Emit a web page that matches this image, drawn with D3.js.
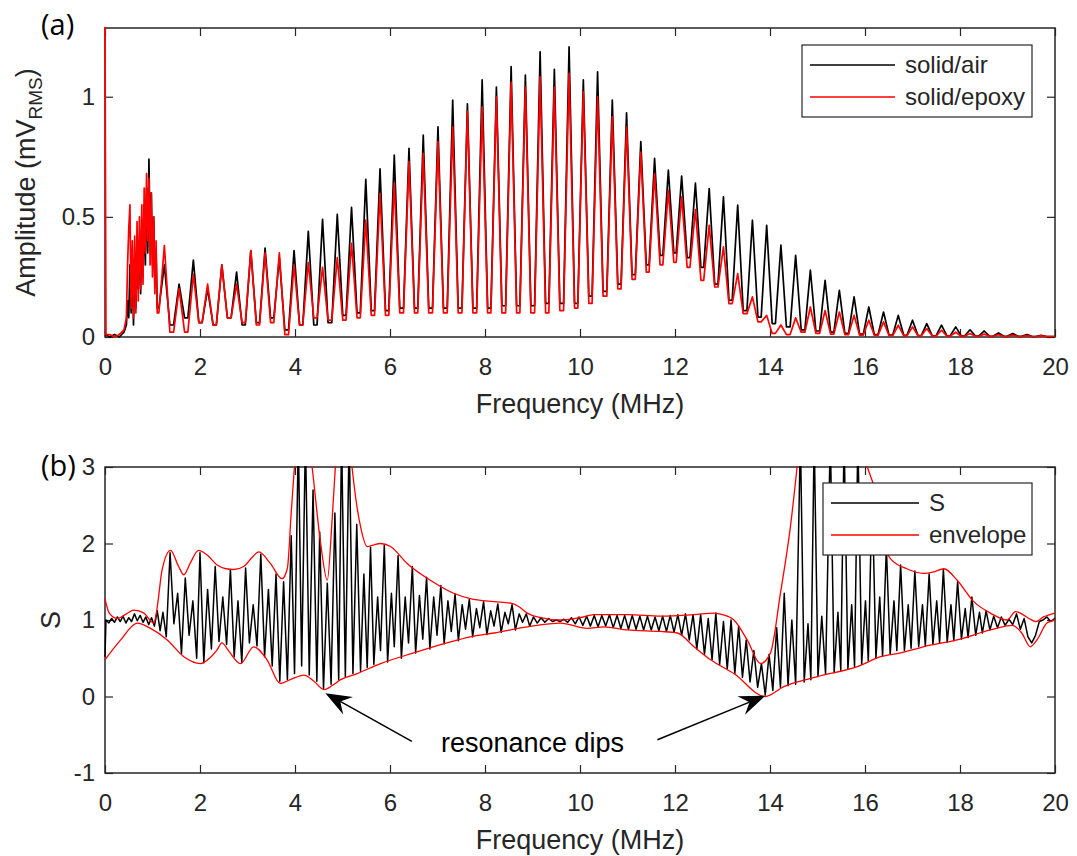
<!DOCTYPE html>
<html>
<head>
<meta charset="utf-8">
<script src="https://cdn.jsdelivr.net/npm/d3@7"></script>
<style>
  body { margin: 0; background: #fff; }
  text { font-family: "Liberation Sans", Arial, sans-serif; fill: #262626; }
</style>
</head>
<body>
<script>
	// ---------- data ----------

	// (a) low-frequency lump, MHz / mV_RMS
	var lowFreq  = [0, 0.02, 0.10, 0.20, 0.30, 0.40, 0.45, 0.475, 0.50, 0.525, 0.55, 0.575, 0.60, 0.625, 0.65, 0.675,
		0.70, 0.725, 0.75, 0.775, 0.80, 0.825, 0.85, 0.875, 0.90, 0.925, 0.95, 0.975, 1.00, 1.025, 1.05, 1.075];
	var lowAir   = [0.01, 0.01, 0.00, 0.01, 0.00, 0.02, 0.05, 0.15, 0.08, 0.30, 0.10, 0.33, 0.05, 0.30, 0.12, 0.35,
		0.20, 0.40, 0.18, 0.45, 0.25, 0.55, 0.30, 0.62, 0.35, 0.74, 0.40, 0.60, 0.30, 0.50, 0.22, 0.36];
	var lowEpoxy = [1.30, 0.01, 0.01, 0.00, 0.01, 0.03, 0.08, 0.30, 0.45, 0.55, 0.12, 0.40, 0.08, 0.42, 0.10, 0.48,
		0.15, 0.50, 0.20, 0.55, 0.22, 0.62, 0.35, 0.68, 0.40, 0.66, 0.30, 0.60, 0.25, 0.50, 0.18, 0.40];

	// (a) resonance comb: trough and peak positions
	var troughFreq = [1.10, 1.41, 1.71, 2.01, 2.31, 2.62, 2.92, 3.22, 3.52, 3.83, 4.13, 4.43, 4.74, 5.04, 5.34, 5.64,
		5.94, 6.25, 6.55, 6.86, 7.17, 7.48, 7.79, 8.09, 8.40, 8.70, 9.01, 9.31, 9.62, 9.92, 10.22, 10.53, 10.83, 11.13,
		11.43, 11.72, 12.00, 12.29, 12.58, 12.87, 13.17, 13.48, 13.78, 14.08, 14.39, 14.70, 15.01, 15.31, 15.62, 15.93,
		16.24, 16.55, 16.85, 17.15, 17.46, 17.76, 18.06, 18.36, 18.66, 18.96, 19.26, 19.56, 19.86, 20.00];
	var peakFreq = [1.25, 1.56, 1.86, 2.16, 2.46, 2.77, 3.07, 3.37, 3.67, 3.98, 4.28, 4.58, 4.89, 5.19, 5.49, 5.79,
		6.09, 6.40, 6.70, 7.01, 7.32, 7.63, 7.94, 8.24, 8.55, 8.85, 9.16, 9.46, 9.77, 10.07, 10.37, 10.68, 10.98, 11.28,
		11.57, 11.86, 12.14, 12.43, 12.72, 13.02, 13.32, 13.63, 13.93, 14.23, 14.54, 14.85, 15.16, 15.46, 15.77, 16.08,
		16.39, 16.70, 17.00, 17.30, 17.61, 17.91, 18.21, 18.51, 18.81, 19.11, 19.41, 19.71];

	var airPeak = [0.30, 0.22, 0.32, 0.20, 0.30, 0.27, 0.36, 0.37, 0.33, 0.36, 0.44, 0.49, 0.51, 0.54, 0.656, 0.70,
		0.757, 0.785, 0.84, 0.875, 0.986, 0.97, 1.07, 1.04, 1.125, 1.09, 1.187, 1.114, 1.208, 1.07, 1.104, 0.986, 0.933,
		0.813, 0.743, 0.695, 0.67, 0.64, 0.618, 0.583, 0.549, 0.486, 0.465, 0.382, 0.34, 0.278, 0.236, 0.194, 0.167,
		0.125, 0.104, 0.09, 0.07, 0.056, 0.049, 0.042, 0.03, 0.025, 0.017, 0.014, 0.01, 0.007];
	var airTrough = [0.12, 0.05, 0.08, 0.06, 0.05, 0.08, 0.05, 0.06, 0.08, 0.03, 0.05, 0.05, 0.06, 0.09, 0.10, 0.11,
		0.11, 0.12, 0.12, 0.12, 0.12, 0.12, 0.12, 0.12, 0.13, 0.13, 0.13, 0.14, 0.14, 0.14, 0.17, 0.19, 0.22, 0.26,
		0.30, 0.34, 0.35, 0.33, 0.29, 0.22, 0.153, 0.11, 0.083, 0.056, 0.042, 0.03, 0.025, 0.02, 0.015, 0.012,
		0.01, 0.008, 0.007, 0.006, 0.005, 0.005, 0.004, 0.004, 0.003, 0.003, 0.003, 0.002, 0.002, 0.002];

	var epoxyPeak = [0.38, 0.20, 0.26, 0.22, 0.30, 0.22, 0.36, 0.35, 0.35, 0.30, 0.31, 0.29, 0.33, 0.39, 0.486, 0.597,
		0.64, 0.73, 0.764, 0.813, 0.875, 0.938, 0.958, 1.0, 1.06, 1.04, 1.083, 1.04, 1.097, 1.02, 1.0, 0.917, 0.875,
		0.77, 0.68, 0.61, 0.583, 0.53, 0.465, 0.375, 0.264, 0.167, 0.09, 0.05, 0.08, 0.125, 0.11, 0.104, 0.09,
		0.07, 0.063, 0.049, 0.042, 0.035, 0.028, 0.02, 0.015, 0.012, 0.01, 0.008, 0.006, 0.005];
	var epoxyTrough = [0.10, 0.02, 0.02, 0.06, 0.05, 0.08, 0.06, 0.05, 0.06, 0.01, 0.05, 0.08, 0.07, 0.07, 0.08, 0.09,
		0.09, 0.10, 0.10, 0.10, 0.10, 0.10, 0.10, 0.10, 0.10, 0.10, 0.10, 0.10, 0.11, 0.12, 0.14, 0.17, 0.20, 0.24,
		0.27, 0.30, 0.31, 0.29, 0.236, 0.208, 0.139, 0.097, 0.063, 0.015, 0.01, 0.02, 0.015, 0.012, 0.01, 0.008,
		0.007, 0.006, 0.005, 0.005, 0.004, 0.004, 0.003, 0.003, 0.003, 0.002, 0.002, 0.002, 0.002, 0.002];

	// (b) S, [MHz, S]
	var sPoints = [
		[0.00,0.52],[0.02,1.00],[0.08,0.96],[0.14,1.02],[0.20,0.97],[0.26,1.04],[0.32,0.98],[0.38,1.05],[0.44,0.96],
		[0.50,1.03],[0.56,0.98],[0.62,1.08],[0.68,0.99],[0.74,1.06],[0.80,0.97],[0.86,1.04],[0.92,0.94],[0.98,1.03],
		[1.04,0.92],[1.10,1.12],[1.16,0.86],[1.22,1.10],[1.29,0.78],[1.37,1.88],[1.45,0.95],[1.53,1.35],[1.61,0.56],
		[1.69,1.55],[1.77,0.80],[1.85,1.25],[1.93,0.50],[2.00,1.88],[2.08,0.44],[2.16,1.40],[2.24,0.62],[2.32,1.70],
		[2.40,0.72],[2.48,1.30],[2.56,0.68],[2.64,1.66],[2.72,0.52],[2.80,1.25],[2.88,0.44],[2.96,1.68],[3.04,0.70],
		[3.12,1.20],[3.20,0.66],[3.28,1.86],[3.36,0.52],[3.44,1.40],[3.52,0.40],[3.60,1.60],[3.68,0.20],[3.76,1.50],
		[3.84,0.22],[3.92,2.10],[3.99,0.30],[4.07,3.40],[4.14,0.40],[4.22,3.40],[4.30,0.28],[4.38,2.70],[4.46,0.20],
		[4.52,2.15],[4.60,0.10],[4.68,1.48],[4.76,0.16],[4.84,2.40],[4.92,0.22],[4.98,3.40],[5.06,0.26],[5.14,3.40],
		[5.22,0.30],[5.30,2.25],[5.38,0.33],[5.45,1.60],[5.52,0.38],[5.59,1.95],[5.66,0.42],[5.74,1.30],[5.80,0.60],
		[5.88,1.98],[5.95,0.45],[6.03,1.35],[6.09,0.65],[6.17,1.84],[6.24,0.50],[6.32,1.30],[6.39,0.70],[6.47,1.70],
		[6.54,0.57],[6.62,1.32],[6.69,0.75],[6.77,1.56],[6.84,0.62],[6.92,1.30],[6.99,0.80],[7.07,1.45],[7.14,0.69],
		[7.22,1.25],[7.29,0.85],[7.37,1.34],[7.44,0.73],[7.52,1.20],[7.59,0.88],[7.67,1.27],[7.74,0.78],[7.82,1.15],
		[7.89,0.90],[7.97,1.24],[8.04,0.81],[8.12,1.12],[8.19,0.92],[8.27,1.21],[8.34,0.84],[8.42,1.10],[8.49,0.95],
		[8.57,1.20],[8.64,0.87],[8.72,1.08],[8.79,0.97],[8.87,1.08],[8.94,0.92],[9.02,1.04],[9.10,0.96],[9.18,1.03],
		[9.26,0.97],[9.34,1.02],[9.42,0.98],[9.50,1.00],[9.58,0.98],[9.66,1.01],[9.74,0.97],[9.82,1.03],[9.90,0.95],
		[9.98,1.04],[10.06,0.93],[10.14,1.05],[10.22,0.92],[10.30,1.06],[10.38,0.91],[10.46,1.06],[10.54,0.92],
		[10.62,1.07],[10.70,0.90],[10.78,1.06],[10.86,0.89],[10.94,1.06],[11.02,0.88],[11.10,1.06],[11.18,0.88],
		[11.26,1.05],[11.34,0.87],[11.42,1.05],[11.50,0.87],[11.58,1.04],[11.66,0.86],[11.74,1.05],[11.82,0.85],
		[11.90,1.06],[11.98,0.84],[12.06,1.07],[12.14,0.80],[12.22,1.08],[12.30,0.74],[12.38,1.07],[12.46,0.62],
		[12.54,1.07],[12.62,0.55],[12.70,1.02],[12.78,0.48],[12.86,1.09],[12.94,0.42],[13.02,0.98],[13.10,0.36],
		[13.18,1.00],[13.26,0.30],[13.34,0.92],[13.42,0.25],[13.50,0.74],[13.58,0.19],[13.66,0.60],[13.74,0.12],
		[13.82,0.43],[13.90,0.02],[13.98,0.55],[14.06,0.08],[14.14,0.90],[14.22,0.12],[14.30,1.35],[14.38,0.14],
		[14.46,1.00],[14.54,0.16],[14.64,3.40],[14.72,0.19],[14.80,0.95],[14.86,0.22],[14.93,3.40],[15.01,0.26],
		[15.09,1.05],[15.17,0.29],[15.27,3.40],[15.35,0.31],[15.43,1.10],[15.49,0.34],[15.56,3.40],[15.64,0.36],
		[15.72,1.20],[15.78,0.39],[15.85,3.40],[15.93,0.42],[16.01,1.25],[16.07,0.46],[16.15,2.70],[16.23,0.50],
		[16.31,1.30],[16.37,0.53],[16.45,1.95],[16.53,0.55],[16.61,1.25],[16.67,0.60],[16.75,1.72],[16.83,0.60],
		[16.91,1.20],[16.97,0.63],[17.05,1.64],[17.13,0.65],[17.21,1.20],[17.27,0.66],[17.35,1.60],[17.43,0.68],
		[17.51,1.25],[17.57,0.70],[17.65,1.66],[17.73,0.71],[17.81,1.20],[17.87,0.73],[17.95,1.50],[18.03,0.75],
		[18.11,1.15],[18.17,0.77],[18.25,1.30],[18.33,0.80],[18.41,1.10],[18.47,0.83],[18.55,1.12],[18.63,0.87],
		[18.71,1.05],[18.79,0.90],[18.87,1.04],[18.95,0.93],[19.03,1.01],[19.11,0.94],[19.19,1.08],[19.27,0.88],
		[19.35,1.02],[19.43,0.78],[19.51,0.70],[19.59,0.80],[19.67,0.98],[19.75,1.00],[19.83,1.04],[19.91,0.98],
		[20.00,1.02]
	];

	// (b) envelope of S, [MHz, S]
	var envUpper = [
		[0,1.28],[0.09,1.09],[0.26,1.02],[0.45,1.08],[0.61,1.13],[0.82,1.09],[1.03,0.96],[1.10,1.17],[1.20,1.65],
		[1.38,1.91],[1.55,1.70],[1.66,1.59],[1.80,1.75],[1.97,1.91],[2.15,1.85],[2.36,1.72],[2.55,1.67],[2.71,1.66],
		[2.92,1.70],[3.10,1.82],[3.24,1.89],[3.48,1.74],[3.73,1.54],[3.84,1.68],[3.92,2.40],[4.00,3.10],[4.15,4.0],
		[4.36,3.0],[4.54,2.0],[4.68,1.52],[4.78,2.30],[4.85,3.0],[5.02,4.2],[5.20,3.0],[5.30,2.5],[5.38,2.22],
		[5.52,1.96],[5.65,1.98],[5.80,2.0],[6.01,1.96],[6.36,1.74],[6.85,1.52],[7.34,1.35],[7.69,1.28],[8.19,1.24],
		[8.54,1.22],[8.70,1.18],[8.89,1.09],[9.10,1.04],[9.59,1.00],[10.0,1.03],[10.29,1.07],[11.0,1.07],[11.7,1.05],
		[12.4,1.07],[12.82,1.09],[13.0,1.07],[13.24,1.0],[13.52,0.74],[13.80,0.43],[14.01,0.57],[14.22,1.35],
		[14.43,2.22],[14.57,3.0],[14.8,4.5],[15.5,5.0],[16.05,3.0],[16.19,2.74],[16.40,1.96],[16.54,1.80],
		[16.88,1.67],[17.23,1.61],[17.45,1.63],[17.66,1.67],[17.94,1.52],[18.29,1.24],[18.64,1.09],[18.99,1.0],
		[19.17,1.11],[19.30,1.08],[19.45,1.02],[19.60,0.98],[19.76,1.04],[20.0,1.09]
	];
	var envLower = [
		[0,0.48],[0.33,0.74],[0.68,0.96],[0.96,0.89],[1.31,0.74],[1.66,0.52],[2.01,0.43],[2.20,0.50],[2.36,0.61],
		[2.46,0.70],[2.60,0.60],[2.85,0.43],[3.13,0.65],[3.41,0.48],[3.69,0.17],[3.90,0.22],[4.19,0.28],[4.40,0.20],
		[4.61,0.09],[4.80,0.15],[4.96,0.22],[5.31,0.30],[5.80,0.43],[6.50,0.57],[7.20,0.70],[7.69,0.78],[8.19,0.83],
		[8.89,0.91],[9.59,0.96],[10.15,0.89],[10.50,0.91],[11.00,0.87],[11.70,0.85],[12.05,0.83],[12.40,0.65],
		[12.75,0.48],[13.24,0.30],[13.90,0.00],[14.29,0.13],[15.00,0.26],[15.84,0.39],[16.33,0.52],[16.75,0.57],
		[17.23,0.65],[17.94,0.74],[18.64,0.87],[19.10,0.93],[19.30,0.83],[19.48,0.65],[19.62,0.74],[19.83,0.96],
		[20.00,1.00]
	];

	// ticks
	var xTicks = [0, 2, 4, 6, 8, 10, 12, 14, 16, 18, 20];
	var yTicksA = [0, 0.5, 1];
	var yTicksB = [-1, 0, 1, 2, 3];

	// ---------- canvas ----------
	var width = 1077, height = 856;
	var axisCol = "#262626";
	var spikeHalf = 5.5;   // half width of a comb peak, px

	var svg = d3.select("body").append("svg")
		.attr("width", width)
		.attr("height", height);

	var panelA = { left: 105, right: 1055, top: 28, bottom: 337 },
		panelB = { left: 105, right: 1055, top: 467, bottom: 773 };

	var x = d3.scaleLinear().domain([0, 20]).range([panelA.left, panelA.right]);
	var yA = d3.scaleLinear().domain([0, 1.286]).range([panelA.bottom, panelA.top]);
	var yB = d3.scaleLinear().domain([-1, 3]).range([panelB.bottom, panelB.top]);

	var defs = svg.append("defs");
	[["clipA", panelA], ["clipB", panelB]].forEach(function(c) {
		defs.append("clipPath").attr("id", c[0])
			.append("rect")
			.attr("x", c[1].left - 1).attr("y", c[1].top - 1)
			.attr("width", c[1].right - c[1].left + 2)
			.attr("height", c[1].bottom - c[1].top + 2);
	});

	// build the comb series of panel (a): [freq, value, pixel offset]
	function combSeries(lowVals, troughVals, peakVals) {
		var pts = lowFreq.map(function(f, i) { return [f, lowVals[i], 0]; });
		troughFreq.forEach(function(f, i) {
			pts.push([f, troughVals[i], 0]);
			if (i < peakFreq.length) {
				pts.push([peakFreq[i], troughVals[i], -spikeHalf]);
				pts.push([peakFreq[i], peakVals[i], 0]);
				pts.push([peakFreq[i], troughVals[i + 1], spikeHalf]);
			}
		});
		return pts;
	}
	var airData = combSeries(lowAir, airTrough, airPeak);
	var epoxyData = combSeries(lowEpoxy, epoxyTrough, epoxyPeak);

	// ---------- axes ----------
	function drawFrame(g, p, ys, yTicks) {
		var fmt = function(d) { return String(d); };
		var bottom = g.append("g")
			.attr("transform", "translate(0," + p.bottom + ")")
			.call(d3.axisBottom(x).tickValues(xTicks).tickSize(-8).tickPadding(21).tickFormat(fmt));
		var top = g.append("g")
			.attr("transform", "translate(0," + p.top + ")")
			.call(d3.axisTop(x).tickValues(xTicks).tickSize(-8).tickFormat(""));
		var left = g.append("g")
			.attr("transform", "translate(" + p.left + ",0)")
			.call(d3.axisLeft(ys).tickValues(yTicks).tickSize(-8).tickPadding(10).tickFormat(fmt));
		var right = g.append("g")
			.attr("transform", "translate(" + p.right + ",0)")
			.call(d3.axisRight(ys).tickValues(yTicks).tickSize(-8).tickFormat(""));
		[bottom, top, left, right].forEach(function(a) {
			a.attr("color", axisCol).attr("font-size", 24)
				.attr("font-family", "Liberation Sans, Arial, sans-serif");
			a.select(".domain").remove();
			a.selectAll(".tick line").attr("stroke-width", 1.2);
		});
		g.append("rect")
			.attr("x", p.left).attr("y", p.top)
			.attr("width", p.right - p.left).attr("height", p.bottom - p.top)
			.attr("fill", "none").attr("stroke", axisCol).attr("stroke-width", 1.5);

		g.append("text")
			.attr("x", (p.left + p.right) / 2)
			.attr("y", p.bottom + 76)
			.attr("text-anchor", "middle")
			.attr("font-size", "27px")
			.text("Frequency (MHz)");
	}

	// ---------- panel (a) ----------
	var gA = svg.append("g");
	drawFrame(gA, panelA, yA, yTicksA);

	var lineA = d3.line()
		.x(function(d) { return x(d[0]) + d[2]; })
		.y(function(d) { return yA(d[1]); });

	var plotA = gA.append("g").attr("clip-path", "url(#clipA)");
	plotA.append("path").datum(airData)
		.attr("fill", "none").attr("stroke", "#000").attr("stroke-width", 1.7)
		.attr("stroke-linejoin", "round")
		.attr("d", lineA);
	plotA.append("path").datum(epoxyData)
		.attr("fill", "none").attr("stroke", "#ff0000").attr("stroke-width", 1.7)
		.attr("stroke-linejoin", "round")
		.attr("d", lineA);

	// ---------- panel (b) ----------
	var gB = svg.append("g");
	drawFrame(gB, panelB, yB, yTicksB);

	var lineB = d3.line()
		.x(function(d) { return x(d[0]); })
		.y(function(d) { return yB(d[1]); });
	var envLine = d3.line()
		.x(function(d) { return x(d[0]); })
		.y(function(d) { return yB(d[1]); })
		.curve(d3.curveMonotoneX);

	var plotB = gB.append("g").attr("clip-path", "url(#clipB)");
	plotB.append("path").datum(sPoints)
		.attr("fill", "none").attr("stroke", "#000").attr("stroke-width", 1.5)
		.attr("stroke-linejoin", "round")
		.attr("d", lineB);
	[envUpper, envLower].forEach(function(env) {
		plotB.append("path").datum(env)
			.attr("fill", "none").attr("stroke", "#ff0000").attr("stroke-width", 1.3)
			.attr("d", envLine);
	});

	// y labels
	var yLabA = svg.append("text")
		.attr("transform", "translate(35," + ((panelA.top + panelA.bottom) / 2) + ") rotate(-90)")
		.attr("text-anchor", "middle")
		.attr("font-size", "27px");
	yLabA.append("tspan").text("Amplitude (mV");
	yLabA.append("tspan").attr("font-size", "19px").attr("dy", 7).text("RMS");
	yLabA.append("tspan").attr("dy", -7).text(")");

	svg.append("text")
		.attr("transform", "translate(60," + ((panelB.top + panelB.bottom) / 2) + ") rotate(-90)")
		.attr("text-anchor", "middle")
		.attr("font-size", "27px")
		.text("S");

	// panel tags
	svg.append("text").attr("x", 41).attr("y", 35)
		.attr("font-size", "29px").style("font-family", "'Open Sans', sans-serif").style("fill", "#000")
		.text("(a)");
	svg.append("text").attr("x", 41).attr("y", 476)
		.attr("font-size", "29px").style("font-family", "'Open Sans', sans-serif").style("fill", "#000")
		.text("(b)");

	// ---------- legends ----------
	function legend(box, rows) {
		var g = svg.append("g");
		g.append("rect")
			.attr("x", box.x).attr("y", box.y).attr("width", box.w).attr("height", box.h)
			.attr("fill", "#fff").attr("stroke", axisCol).attr("stroke-width", 1.2);
		rows.forEach(function(r, i) {
			var yy = box.y + 20 + i * 32;
			g.append("line")
				.attr("x1", box.x + 8).attr("x2", box.x + 8 + box.len)
				.attr("y1", yy).attr("y2", yy)
				.attr("stroke", r.color).attr("stroke-width", 1.5);
			g.append("text")
				.attr("x", box.x + 18 + box.len).attr("y", yy).attr("dy", "0.35em")
				.attr("font-size", "24px")
				.text(r.name);
		});
	}
	legend({ x: 802, y: 45, w: 230, h: 72, len: 85 },
		[{ name: "solid/air", color: "#000" }, { name: "solid/epoxy", color: "#ff0000" }]);
	legend({ x: 823, y: 483, w: 209, h: 72, len: 88 },
		[{ name: "S", color: "#000" }, { name: "envelope", color: "#ff0000" }]);

	// ---------- annotation ----------
	function arrow(x1, y1, x2, y2) {
		var a = Math.atan2(y2 - y1, x2 - x1), c = Math.cos(a), s = Math.sin(a);
		var L = 26, Wd = 10, N = 17;
		function pt(back, side) { return [x2 - back * c - side * s, y2 - back * s + side * c]; }
		var base = pt(N, 0);
		svg.append("line")
			.attr("x1", x1).attr("y1", y1).attr("x2", base[0]).attr("y2", base[1])
			.attr("stroke", "#000").attr("stroke-width", 1.5);
		svg.append("path")
			.attr("d", "M" + [x2, y2] + "L" + pt(L, Wd) + "L" + base + "L" + pt(L, -Wd) + "Z")
			.attr("fill", "#000");
	}
	arrow(x(6.46), yB(-0.587), x(4.64), yB(0.044));
	arrow(x(11.63), yB(-0.565), x(13.9), yB(0.01));

	svg.append("text")
		.attr("x", x(9.0)).attr("y", yB(-0.72))
		.attr("text-anchor", "middle")
		.attr("font-size", "27px").style("fill", "#000")
		.text("resonance dips");
</script>
</body>
</html>
